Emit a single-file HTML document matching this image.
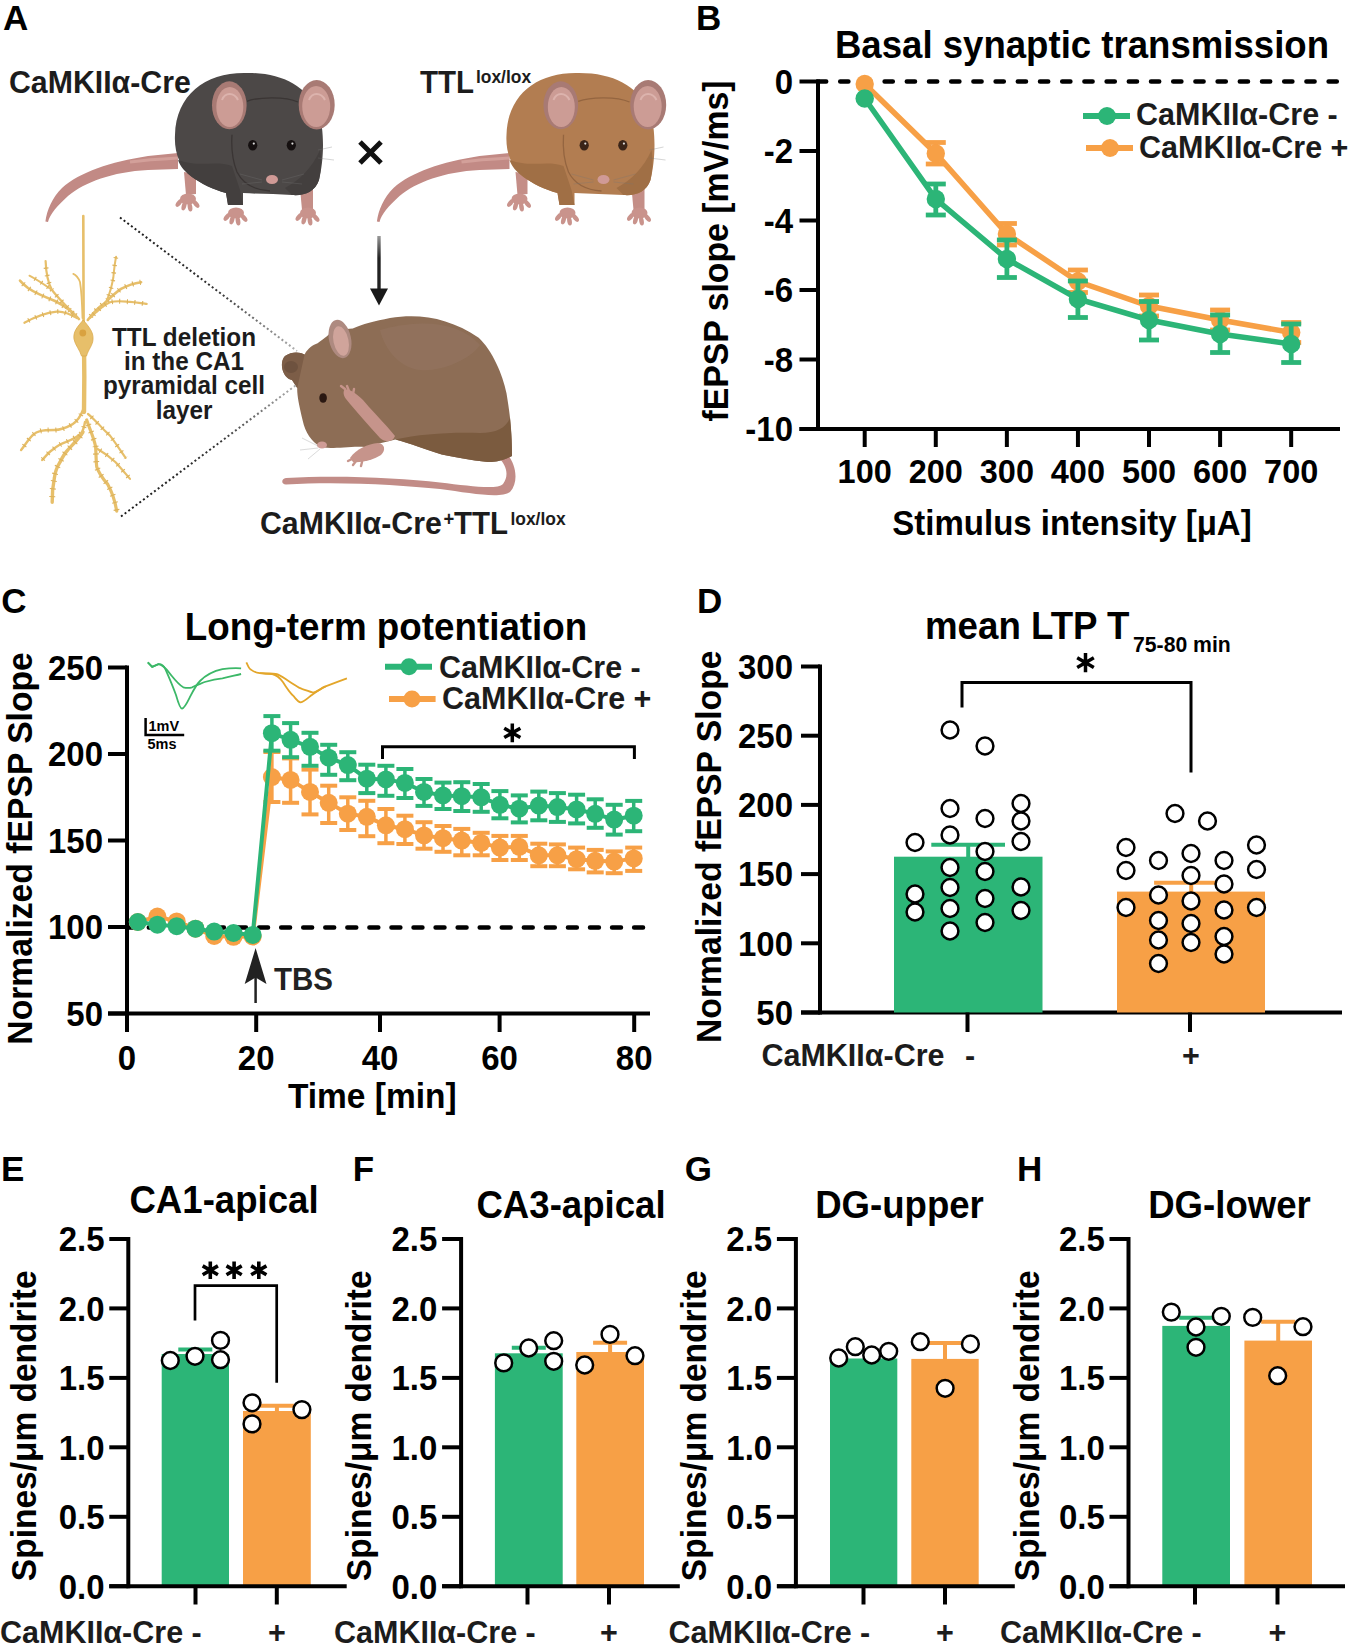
<!DOCTYPE html>
<html><head><meta charset="utf-8"><style>
html,body{margin:0;padding:0;background:#fff;}
svg{display:block;}
text{font-family:"Liberation Sans", sans-serif;font-weight:bold;}
</style></head><body>
<svg width="1350" height="1646" viewBox="0 0 1350 1646">
<rect width="1350" height="1646" fill="#fff"/>
<text x="3" y="30.4" font-size="35" text-anchor="start" fill="#000000" >A</text>
<text x="696.1" y="30.4" font-size="35" text-anchor="start" fill="#000000" >B</text>
<text x="1.3" y="613.2" font-size="35" text-anchor="start" fill="#000000" >C</text>
<text x="697" y="613" font-size="35" text-anchor="start" fill="#000000" >D</text>
<text x="1" y="1181" font-size="35" text-anchor="start" fill="#000000" >E</text>
<text x="352.8" y="1181" font-size="35" text-anchor="start" fill="#000000" >F</text>
<text x="684.8" y="1181.2" font-size="35" text-anchor="start" fill="#000000" >G</text>
<text x="1017.1" y="1181" font-size="35" text-anchor="start" fill="#000000" >H</text>
<line x1="818" y1="79.5" x2="818" y2="431" stroke="#000000" stroke-width="4" />
<line x1="799.5" y1="429" x2="1340" y2="429" stroke="#000000" stroke-width="4" />
<line x1="799.5" y1="81.5" x2="818" y2="81.5" stroke="#000000" stroke-width="4" />
<text x="0" y="0" font-size="33" text-anchor="end" fill="#000000" transform="translate(793,93.8) scale(1,1.045)" >0</text>
<line x1="799.5" y1="151.0" x2="818" y2="151.0" stroke="#000000" stroke-width="4" />
<text x="0" y="0" font-size="33" text-anchor="end" fill="#000000" transform="translate(793,163.3) scale(1,1.045)" >-2</text>
<line x1="799.5" y1="220.5" x2="818" y2="220.5" stroke="#000000" stroke-width="4" />
<text x="0" y="0" font-size="33" text-anchor="end" fill="#000000" transform="translate(793,232.8) scale(1,1.045)" >-4</text>
<line x1="799.5" y1="290.0" x2="818" y2="290.0" stroke="#000000" stroke-width="4" />
<text x="0" y="0" font-size="33" text-anchor="end" fill="#000000" transform="translate(793,302.3) scale(1,1.045)" >-6</text>
<line x1="799.5" y1="359.5" x2="818" y2="359.5" stroke="#000000" stroke-width="4" />
<text x="0" y="0" font-size="33" text-anchor="end" fill="#000000" transform="translate(793,371.8) scale(1,1.045)" >-8</text>
<line x1="799.5" y1="429.0" x2="818" y2="429.0" stroke="#000000" stroke-width="4" />
<text x="0" y="0" font-size="33" text-anchor="end" fill="#000000" transform="translate(793,441.3) scale(1,1.045)" >-10</text>
<line x1="864.7" y1="429" x2="864.7" y2="447" stroke="#000000" stroke-width="4" />
<text x="0" y="0" font-size="32.5" text-anchor="middle" fill="#000000" transform="translate(864.7,482.5) scale(1,1.045)" >100</text>
<line x1="935.7800000000001" y1="429" x2="935.7800000000001" y2="447" stroke="#000000" stroke-width="4" />
<text x="0" y="0" font-size="32.5" text-anchor="middle" fill="#000000" transform="translate(935.8,482.5) scale(1,1.045)" >200</text>
<line x1="1006.86" y1="429" x2="1006.86" y2="447" stroke="#000000" stroke-width="4" />
<text x="0" y="0" font-size="32.5" text-anchor="middle" fill="#000000" transform="translate(1006.9,482.5) scale(1,1.045)" >300</text>
<line x1="1077.94" y1="429" x2="1077.94" y2="447" stroke="#000000" stroke-width="4" />
<text x="0" y="0" font-size="32.5" text-anchor="middle" fill="#000000" transform="translate(1077.9,482.5) scale(1,1.045)" >400</text>
<line x1="1149.02" y1="429" x2="1149.02" y2="447" stroke="#000000" stroke-width="4" />
<text x="0" y="0" font-size="32.5" text-anchor="middle" fill="#000000" transform="translate(1149.0,482.5) scale(1,1.045)" >500</text>
<line x1="1220.1" y1="429" x2="1220.1" y2="447" stroke="#000000" stroke-width="4" />
<text x="0" y="0" font-size="32.5" text-anchor="middle" fill="#000000" transform="translate(1220.1,482.5) scale(1,1.045)" >600</text>
<line x1="1291.18" y1="429" x2="1291.18" y2="447" stroke="#000000" stroke-width="4" />
<text x="0" y="0" font-size="32.5" text-anchor="middle" fill="#000000" transform="translate(1291.2,482.5) scale(1,1.045)" >700</text>
<text x="0" y="0" font-size="33" text-anchor="middle" fill="#000000" transform="translate(1072,534.5) scale(1,1.045)" >Stimulus intensity [μA]</text>
<text x="0" y="0" font-size="33.8" text-anchor="middle" fill="#000000" transform="translate(728.2,251) rotate(-90) scale(1,1.045)" >fEPSP slope [mV/ms]</text>
<text x="0" y="0" font-size="36.6" text-anchor="middle" fill="#000000" transform="translate(1082,57.6) scale(1,1.045)" >Basal synaptic transmission</text>
<line x1="818" y1="81.5" x2="1338" y2="81.5" stroke="#000000" stroke-width="4.5" stroke-dasharray="8.2 14" stroke-linecap="round"/>
<polyline points="864.7,84 935.8,153.5 1006.9,234 1077.9,281.5 1149.0,306 1220.1,320 1291.2,332.5" fill="none" stroke="#f7a046" stroke-width="5.5"/>
<circle cx="864.7" cy="84" r="9.2" fill="#f7a046" stroke="none" stroke-width="0"/>
<line x1="935.8" y1="142.5" x2="935.8" y2="164" stroke="#f7a046" stroke-width="4.8" />
<line x1="925.8" y1="142.5" x2="945.8" y2="142.5" stroke="#f7a046" stroke-width="4.8" />
<line x1="925.8" y1="164" x2="945.8" y2="164" stroke="#f7a046" stroke-width="4.8" />
<circle cx="935.8" cy="153.5" r="9.2" fill="#f7a046" stroke="none" stroke-width="0"/>
<line x1="1006.9" y1="223.5" x2="1006.9" y2="245" stroke="#f7a046" stroke-width="4.8" />
<line x1="996.9" y1="223.5" x2="1016.9" y2="223.5" stroke="#f7a046" stroke-width="4.8" />
<line x1="996.9" y1="245" x2="1016.9" y2="245" stroke="#f7a046" stroke-width="4.8" />
<circle cx="1006.9" cy="234" r="9.2" fill="#f7a046" stroke="none" stroke-width="0"/>
<line x1="1077.9" y1="270" x2="1077.9" y2="292.5" stroke="#f7a046" stroke-width="4.8" />
<line x1="1067.9" y1="270" x2="1087.9" y2="270" stroke="#f7a046" stroke-width="4.8" />
<line x1="1067.9" y1="292.5" x2="1087.9" y2="292.5" stroke="#f7a046" stroke-width="4.8" />
<circle cx="1077.9" cy="281.5" r="9.2" fill="#f7a046" stroke="none" stroke-width="0"/>
<line x1="1149.0" y1="295" x2="1149.0" y2="316" stroke="#f7a046" stroke-width="4.8" />
<line x1="1139.0" y1="295" x2="1159.0" y2="295" stroke="#f7a046" stroke-width="4.8" />
<line x1="1139.0" y1="316" x2="1159.0" y2="316" stroke="#f7a046" stroke-width="4.8" />
<circle cx="1149.0" cy="306" r="9.2" fill="#f7a046" stroke="none" stroke-width="0"/>
<line x1="1220.1" y1="310" x2="1220.1" y2="330" stroke="#f7a046" stroke-width="4.8" />
<line x1="1210.1" y1="310" x2="1230.1" y2="310" stroke="#f7a046" stroke-width="4.8" />
<line x1="1210.1" y1="330" x2="1230.1" y2="330" stroke="#f7a046" stroke-width="4.8" />
<circle cx="1220.1" cy="320" r="9.2" fill="#f7a046" stroke="none" stroke-width="0"/>
<line x1="1291.2" y1="322.5" x2="1291.2" y2="342.5" stroke="#f7a046" stroke-width="4.8" />
<line x1="1281.2" y1="322.5" x2="1301.2" y2="322.5" stroke="#f7a046" stroke-width="4.8" />
<line x1="1281.2" y1="342.5" x2="1301.2" y2="342.5" stroke="#f7a046" stroke-width="4.8" />
<circle cx="1291.2" cy="332.5" r="9.2" fill="#f7a046" stroke="none" stroke-width="0"/>
<polyline points="864.7,98.5 935.8,199 1006.9,259 1077.9,299 1149.0,320 1220.1,334 1291.2,344" fill="none" stroke="#2cb577" stroke-width="5.5"/>
<circle cx="864.7" cy="98.5" r="9.2" fill="#2cb577" stroke="none" stroke-width="0"/>
<line x1="935.8" y1="184" x2="935.8" y2="215" stroke="#2cb577" stroke-width="4.8" />
<line x1="925.8" y1="184" x2="945.8" y2="184" stroke="#2cb577" stroke-width="4.8" />
<line x1="925.8" y1="215" x2="945.8" y2="215" stroke="#2cb577" stroke-width="4.8" />
<circle cx="935.8" cy="199" r="9.2" fill="#2cb577" stroke="none" stroke-width="0"/>
<line x1="1006.9" y1="240" x2="1006.9" y2="277.5" stroke="#2cb577" stroke-width="4.8" />
<line x1="996.9" y1="240" x2="1016.9" y2="240" stroke="#2cb577" stroke-width="4.8" />
<line x1="996.9" y1="277.5" x2="1016.9" y2="277.5" stroke="#2cb577" stroke-width="4.8" />
<circle cx="1006.9" cy="259" r="9.2" fill="#2cb577" stroke="none" stroke-width="0"/>
<line x1="1077.9" y1="281" x2="1077.9" y2="317.5" stroke="#2cb577" stroke-width="4.8" />
<line x1="1067.9" y1="281" x2="1087.9" y2="281" stroke="#2cb577" stroke-width="4.8" />
<line x1="1067.9" y1="317.5" x2="1087.9" y2="317.5" stroke="#2cb577" stroke-width="4.8" />
<circle cx="1077.9" cy="299" r="9.2" fill="#2cb577" stroke="none" stroke-width="0"/>
<line x1="1149.0" y1="301.5" x2="1149.0" y2="340" stroke="#2cb577" stroke-width="4.8" />
<line x1="1139.0" y1="301.5" x2="1159.0" y2="301.5" stroke="#2cb577" stroke-width="4.8" />
<line x1="1139.0" y1="340" x2="1159.0" y2="340" stroke="#2cb577" stroke-width="4.8" />
<circle cx="1149.0" cy="320" r="9.2" fill="#2cb577" stroke="none" stroke-width="0"/>
<line x1="1220.1" y1="315" x2="1220.1" y2="352.5" stroke="#2cb577" stroke-width="4.8" />
<line x1="1210.1" y1="315" x2="1230.1" y2="315" stroke="#2cb577" stroke-width="4.8" />
<line x1="1210.1" y1="352.5" x2="1230.1" y2="352.5" stroke="#2cb577" stroke-width="4.8" />
<circle cx="1220.1" cy="334" r="9.2" fill="#2cb577" stroke="none" stroke-width="0"/>
<line x1="1291.2" y1="324" x2="1291.2" y2="362.5" stroke="#2cb577" stroke-width="4.8" />
<line x1="1281.2" y1="324" x2="1301.2" y2="324" stroke="#2cb577" stroke-width="4.8" />
<line x1="1281.2" y1="362.5" x2="1301.2" y2="362.5" stroke="#2cb577" stroke-width="4.8" />
<circle cx="1291.2" cy="344" r="9.2" fill="#2cb577" stroke="none" stroke-width="0"/>
<line x1="1083" y1="116" x2="1130" y2="116" stroke="#2cb577" stroke-width="6" />
<circle cx="1107" cy="116" r="9" fill="#2cb577" stroke="none" stroke-width="0"/>
<text x="0" y="0" font-size="30.5" text-anchor="start" fill="#1c1c1c" transform="translate(1136,124.5) scale(1,1.045)" >CaMKIIα-Cre -</text>
<line x1="1086" y1="148" x2="1133" y2="148" stroke="#f7a046" stroke-width="6" />
<circle cx="1110" cy="148" r="9" fill="#f7a046" stroke="none" stroke-width="0"/>
<text x="0" y="0" font-size="30.5" text-anchor="start" fill="#1c1c1c" transform="translate(1139,157.5) scale(1,1.045)" >CaMKIIα-Cre +</text>
<line x1="127" y1="665.5" x2="127" y2="1015.5" stroke="#000000" stroke-width="4" />
<line x1="108" y1="1013.5" x2="650" y2="1013.5" stroke="#000000" stroke-width="4" />
<line x1="108" y1="667.5" x2="127" y2="667.5" stroke="#000000" stroke-width="4" />
<text x="0" y="0" font-size="33" text-anchor="end" fill="#000000" transform="translate(103,679.8) scale(1,1.045)" >250</text>
<line x1="108" y1="754.0" x2="127" y2="754.0" stroke="#000000" stroke-width="4" />
<text x="0" y="0" font-size="33" text-anchor="end" fill="#000000" transform="translate(103,766.3) scale(1,1.045)" >200</text>
<line x1="108" y1="840.5" x2="127" y2="840.5" stroke="#000000" stroke-width="4" />
<text x="0" y="0" font-size="33" text-anchor="end" fill="#000000" transform="translate(103,852.8) scale(1,1.045)" >150</text>
<line x1="108" y1="927.0" x2="127" y2="927.0" stroke="#000000" stroke-width="4" />
<text x="0" y="0" font-size="33" text-anchor="end" fill="#000000" transform="translate(103,939.3) scale(1,1.045)" >100</text>
<line x1="108" y1="1013.5" x2="127" y2="1013.5" stroke="#000000" stroke-width="4" />
<text x="0" y="0" font-size="33" text-anchor="end" fill="#000000" transform="translate(103,1025.8) scale(1,1.045)" >50</text>
<line x1="127" y1="1013.5" x2="127" y2="1032" stroke="#000000" stroke-width="4" />
<text x="0" y="0" font-size="33" text-anchor="middle" fill="#000000" transform="translate(127,1070) scale(1,1.045)" >0</text>
<line x1="256.2" y1="1013.5" x2="256.2" y2="1032" stroke="#000000" stroke-width="4" />
<text x="0" y="0" font-size="33" text-anchor="middle" fill="#000000" transform="translate(256.2,1070) scale(1,1.045)" >20</text>
<line x1="380" y1="1013.5" x2="380" y2="1032" stroke="#000000" stroke-width="4" />
<text x="0" y="0" font-size="33" text-anchor="middle" fill="#000000" transform="translate(380,1070) scale(1,1.045)" >40</text>
<line x1="499.6" y1="1013.5" x2="499.6" y2="1032" stroke="#000000" stroke-width="4" />
<text x="0" y="0" font-size="33" text-anchor="middle" fill="#000000" transform="translate(499.6,1070) scale(1,1.045)" >60</text>
<line x1="634.2" y1="1013.5" x2="634.2" y2="1032" stroke="#000000" stroke-width="4" />
<text x="0" y="0" font-size="33" text-anchor="middle" fill="#000000" transform="translate(634.2,1070) scale(1,1.045)" >80</text>
<text x="0" y="0" font-size="33.5" text-anchor="middle" fill="#000000" transform="translate(372.25,1108) scale(1,1.045)" >Time [min]</text>
<text x="0" y="0" font-size="33.7" text-anchor="middle" fill="#000000" transform="translate(32,848.4) rotate(-90) scale(1,1.045)" >Normalized fEPSP Slope</text>
<text x="0" y="0" font-size="36.8" text-anchor="middle" fill="#000000" transform="translate(386,639.5) scale(1,1.045)" >Long-term potentiation</text>
<line x1="126.7" y1="927.5" x2="645" y2="927.5" stroke="#000000" stroke-width="4.4" stroke-dasharray="9 13.06" stroke-linecap="round"/>
<polyline points="137.8,922 157.4,916.6 176.7,921.4 195.5,928.7 214.2,935.9 233.5,936.8 252.7,936.5 271.9,777.1 290.6,779.9 310,791.9 328.7,802.8 347.8,813.7 366.8,816.8 385.9,825.3 404.9,829.2 424,835.4 443,838.2 461.8,840.6 481.2,842.9 499.9,847.6 519.3,846.8 538.8,855.3 557.4,855.3 576.6,859.2 595.2,860.8 614.2,861.6 633.7,858.4" fill="none" stroke="#f7a046" stroke-width="4"/>
<line x1="271.9" y1="752" x2="271.9" y2="802" stroke="#f7a046" stroke-width="3.5" />
<line x1="263.4" y1="752" x2="280.4" y2="752" stroke="#f7a046" stroke-width="4" />
<line x1="263.4" y1="802" x2="280.4" y2="802" stroke="#f7a046" stroke-width="4" />
<line x1="290.6" y1="758.4" x2="290.6" y2="802.8" stroke="#f7a046" stroke-width="3.5" />
<line x1="282.1" y1="758.4" x2="299.1" y2="758.4" stroke="#f7a046" stroke-width="4" />
<line x1="282.1" y1="802.8" x2="299.1" y2="802.8" stroke="#f7a046" stroke-width="4" />
<line x1="310" y1="769.6" x2="310" y2="814.4" stroke="#f7a046" stroke-width="3.5" />
<line x1="301.5" y1="769.6" x2="318.5" y2="769.6" stroke="#f7a046" stroke-width="4" />
<line x1="301.5" y1="814.4" x2="318.5" y2="814.4" stroke="#f7a046" stroke-width="4" />
<line x1="328.7" y1="785.7" x2="328.7" y2="823" stroke="#f7a046" stroke-width="3.5" />
<line x1="320.2" y1="785.7" x2="337.2" y2="785.7" stroke="#f7a046" stroke-width="4" />
<line x1="320.2" y1="823" x2="337.2" y2="823" stroke="#f7a046" stroke-width="4" />
<line x1="347.8" y1="797.3" x2="347.8" y2="830" stroke="#f7a046" stroke-width="3.5" />
<line x1="339.3" y1="797.3" x2="356.3" y2="797.3" stroke="#f7a046" stroke-width="4" />
<line x1="339.3" y1="830" x2="356.3" y2="830" stroke="#f7a046" stroke-width="4" />
<line x1="366.8" y1="800.8" x2="366.8" y2="836.2" stroke="#f7a046" stroke-width="3.5" />
<line x1="358.3" y1="800.8" x2="375.3" y2="800.8" stroke="#f7a046" stroke-width="4" />
<line x1="358.3" y1="836.2" x2="375.3" y2="836.2" stroke="#f7a046" stroke-width="4" />
<line x1="385.9" y1="809" x2="385.9" y2="843.2" stroke="#f7a046" stroke-width="3.5" />
<line x1="377.4" y1="809" x2="394.4" y2="809" stroke="#f7a046" stroke-width="4" />
<line x1="377.4" y1="843.2" x2="394.4" y2="843.2" stroke="#f7a046" stroke-width="4" />
<line x1="404.9" y1="815.7" x2="404.9" y2="844" stroke="#f7a046" stroke-width="3.5" />
<line x1="396.4" y1="815.7" x2="413.4" y2="815.7" stroke="#f7a046" stroke-width="4" />
<line x1="396.4" y1="844" x2="413.4" y2="844" stroke="#f7a046" stroke-width="4" />
<line x1="424" y1="822.2" x2="424" y2="848.7" stroke="#f7a046" stroke-width="3.5" />
<line x1="415.5" y1="822.2" x2="432.5" y2="822.2" stroke="#f7a046" stroke-width="4" />
<line x1="415.5" y1="848.7" x2="432.5" y2="848.7" stroke="#f7a046" stroke-width="4" />
<line x1="443" y1="826" x2="443" y2="851.8" stroke="#f7a046" stroke-width="3.5" />
<line x1="434.5" y1="826" x2="451.5" y2="826" stroke="#f7a046" stroke-width="4" />
<line x1="434.5" y1="851.8" x2="451.5" y2="851.8" stroke="#f7a046" stroke-width="4" />
<line x1="461.8" y1="828.9" x2="461.8" y2="855.3" stroke="#f7a046" stroke-width="3.5" />
<line x1="453.3" y1="828.9" x2="470.3" y2="828.9" stroke="#f7a046" stroke-width="4" />
<line x1="453.3" y1="855.3" x2="470.3" y2="855.3" stroke="#f7a046" stroke-width="4" />
<line x1="481.2" y1="832.8" x2="481.2" y2="855.3" stroke="#f7a046" stroke-width="3.5" />
<line x1="472.7" y1="832.8" x2="489.7" y2="832.8" stroke="#f7a046" stroke-width="4" />
<line x1="472.7" y1="855.3" x2="489.7" y2="855.3" stroke="#f7a046" stroke-width="4" />
<line x1="499.9" y1="835.9" x2="499.9" y2="860" stroke="#f7a046" stroke-width="3.5" />
<line x1="491.4" y1="835.9" x2="508.4" y2="835.9" stroke="#f7a046" stroke-width="4" />
<line x1="491.4" y1="860" x2="508.4" y2="860" stroke="#f7a046" stroke-width="4" />
<line x1="519.3" y1="835.9" x2="519.3" y2="860" stroke="#f7a046" stroke-width="3.5" />
<line x1="510.79999999999995" y1="835.9" x2="527.8" y2="835.9" stroke="#f7a046" stroke-width="4" />
<line x1="510.79999999999995" y1="860" x2="527.8" y2="860" stroke="#f7a046" stroke-width="4" />
<line x1="538.8" y1="843.7" x2="538.8" y2="866.2" stroke="#f7a046" stroke-width="3.5" />
<line x1="530.3" y1="843.7" x2="547.3" y2="843.7" stroke="#f7a046" stroke-width="4" />
<line x1="530.3" y1="866.2" x2="547.3" y2="866.2" stroke="#f7a046" stroke-width="4" />
<line x1="557.4" y1="844.4" x2="557.4" y2="866.2" stroke="#f7a046" stroke-width="3.5" />
<line x1="548.9" y1="844.4" x2="565.9" y2="844.4" stroke="#f7a046" stroke-width="4" />
<line x1="548.9" y1="866.2" x2="565.9" y2="866.2" stroke="#f7a046" stroke-width="4" />
<line x1="576.6" y1="847.6" x2="576.6" y2="869.3" stroke="#f7a046" stroke-width="3.5" />
<line x1="568.1" y1="847.6" x2="585.1" y2="847.6" stroke="#f7a046" stroke-width="4" />
<line x1="568.1" y1="869.3" x2="585.1" y2="869.3" stroke="#f7a046" stroke-width="4" />
<line x1="595.2" y1="849.9" x2="595.2" y2="872.4" stroke="#f7a046" stroke-width="3.5" />
<line x1="586.7" y1="849.9" x2="603.7" y2="849.9" stroke="#f7a046" stroke-width="4" />
<line x1="586.7" y1="872.4" x2="603.7" y2="872.4" stroke="#f7a046" stroke-width="4" />
<line x1="614.2" y1="851.4" x2="614.2" y2="873.2" stroke="#f7a046" stroke-width="3.5" />
<line x1="605.7" y1="851.4" x2="622.7" y2="851.4" stroke="#f7a046" stroke-width="4" />
<line x1="605.7" y1="873.2" x2="622.7" y2="873.2" stroke="#f7a046" stroke-width="4" />
<line x1="633.7" y1="847.6" x2="633.7" y2="870.9" stroke="#f7a046" stroke-width="3.5" />
<line x1="625.2" y1="847.6" x2="642.2" y2="847.6" stroke="#f7a046" stroke-width="4" />
<line x1="625.2" y1="870.9" x2="642.2" y2="870.9" stroke="#f7a046" stroke-width="4" />
<circle cx="137.8" cy="922" r="9" fill="#f7a046" stroke="none" stroke-width="0"/>
<circle cx="157.4" cy="916.6" r="9" fill="#f7a046" stroke="none" stroke-width="0"/>
<circle cx="176.7" cy="921.4" r="9" fill="#f7a046" stroke="none" stroke-width="0"/>
<circle cx="195.5" cy="928.7" r="9" fill="#f7a046" stroke="none" stroke-width="0"/>
<circle cx="214.2" cy="935.9" r="9" fill="#f7a046" stroke="none" stroke-width="0"/>
<circle cx="233.5" cy="936.8" r="9" fill="#f7a046" stroke="none" stroke-width="0"/>
<circle cx="252.7" cy="936.5" r="9" fill="#f7a046" stroke="none" stroke-width="0"/>
<circle cx="271.9" cy="777.1" r="9" fill="#f7a046" stroke="none" stroke-width="0"/>
<circle cx="290.6" cy="779.9" r="9" fill="#f7a046" stroke="none" stroke-width="0"/>
<circle cx="310" cy="791.9" r="9" fill="#f7a046" stroke="none" stroke-width="0"/>
<circle cx="328.7" cy="802.8" r="9" fill="#f7a046" stroke="none" stroke-width="0"/>
<circle cx="347.8" cy="813.7" r="9" fill="#f7a046" stroke="none" stroke-width="0"/>
<circle cx="366.8" cy="816.8" r="9" fill="#f7a046" stroke="none" stroke-width="0"/>
<circle cx="385.9" cy="825.3" r="9" fill="#f7a046" stroke="none" stroke-width="0"/>
<circle cx="404.9" cy="829.2" r="9" fill="#f7a046" stroke="none" stroke-width="0"/>
<circle cx="424" cy="835.4" r="9" fill="#f7a046" stroke="none" stroke-width="0"/>
<circle cx="443" cy="838.2" r="9" fill="#f7a046" stroke="none" stroke-width="0"/>
<circle cx="461.8" cy="840.6" r="9" fill="#f7a046" stroke="none" stroke-width="0"/>
<circle cx="481.2" cy="842.9" r="9" fill="#f7a046" stroke="none" stroke-width="0"/>
<circle cx="499.9" cy="847.6" r="9" fill="#f7a046" stroke="none" stroke-width="0"/>
<circle cx="519.3" cy="846.8" r="9" fill="#f7a046" stroke="none" stroke-width="0"/>
<circle cx="538.8" cy="855.3" r="9" fill="#f7a046" stroke="none" stroke-width="0"/>
<circle cx="557.4" cy="855.3" r="9" fill="#f7a046" stroke="none" stroke-width="0"/>
<circle cx="576.6" cy="859.2" r="9" fill="#f7a046" stroke="none" stroke-width="0"/>
<circle cx="595.2" cy="860.8" r="9" fill="#f7a046" stroke="none" stroke-width="0"/>
<circle cx="614.2" cy="861.6" r="9" fill="#f7a046" stroke="none" stroke-width="0"/>
<circle cx="633.7" cy="858.4" r="9" fill="#f7a046" stroke="none" stroke-width="0"/>
<polyline points="137.8,922 157.4,924.7 176.7,926.2 195.5,928.7 214.2,931.6 233.5,933 252.7,934.9 271.9,733.2 290.6,739.8 310,746.8 328.7,757.7 347.8,765.1 366.8,778.7 385.9,779.4 404.9,782.9 424,791.9 443,795.5 461.8,796.2 481.2,797.3 499.9,804.8 519.3,808.7 538.8,805.6 557.4,807.1 576.6,809.4 595.2,813.8 614.2,819.6 633.7,815.7" fill="none" stroke="#2cb577" stroke-width="4"/>
<line x1="271.9" y1="716.1" x2="271.9" y2="750.7" stroke="#2cb577" stroke-width="3.5" />
<line x1="263.4" y1="716.1" x2="280.4" y2="716.1" stroke="#2cb577" stroke-width="4" />
<line x1="263.4" y1="750.7" x2="280.4" y2="750.7" stroke="#2cb577" stroke-width="4" />
<line x1="290.6" y1="723.1" x2="290.6" y2="757.2" stroke="#2cb577" stroke-width="3.5" />
<line x1="282.1" y1="723.1" x2="299.1" y2="723.1" stroke="#2cb577" stroke-width="4" />
<line x1="282.1" y1="757.2" x2="299.1" y2="757.2" stroke="#2cb577" stroke-width="4" />
<line x1="310" y1="732.8" x2="310" y2="765.8" stroke="#2cb577" stroke-width="3.5" />
<line x1="301.5" y1="732.8" x2="318.5" y2="732.8" stroke="#2cb577" stroke-width="4" />
<line x1="301.5" y1="765.8" x2="318.5" y2="765.8" stroke="#2cb577" stroke-width="4" />
<line x1="328.7" y1="744.8" x2="328.7" y2="774.8" stroke="#2cb577" stroke-width="3.5" />
<line x1="320.2" y1="744.8" x2="337.2" y2="744.8" stroke="#2cb577" stroke-width="4" />
<line x1="320.2" y1="774.8" x2="337.2" y2="774.8" stroke="#2cb577" stroke-width="4" />
<line x1="347.8" y1="752.2" x2="347.8" y2="780.2" stroke="#2cb577" stroke-width="3.5" />
<line x1="339.3" y1="752.2" x2="356.3" y2="752.2" stroke="#2cb577" stroke-width="4" />
<line x1="339.3" y1="780.2" x2="356.3" y2="780.2" stroke="#2cb577" stroke-width="4" />
<line x1="366.8" y1="764.7" x2="366.8" y2="793.1" stroke="#2cb577" stroke-width="3.5" />
<line x1="358.3" y1="764.7" x2="375.3" y2="764.7" stroke="#2cb577" stroke-width="4" />
<line x1="358.3" y1="793.1" x2="375.3" y2="793.1" stroke="#2cb577" stroke-width="4" />
<line x1="385.9" y1="765.8" x2="385.9" y2="795.8" stroke="#2cb577" stroke-width="3.5" />
<line x1="377.4" y1="765.8" x2="394.4" y2="765.8" stroke="#2cb577" stroke-width="4" />
<line x1="377.4" y1="795.8" x2="394.4" y2="795.8" stroke="#2cb577" stroke-width="4" />
<line x1="404.9" y1="769" x2="404.9" y2="798" stroke="#2cb577" stroke-width="3.5" />
<line x1="396.4" y1="769" x2="413.4" y2="769" stroke="#2cb577" stroke-width="4" />
<line x1="396.4" y1="798" x2="413.4" y2="798" stroke="#2cb577" stroke-width="4" />
<line x1="424" y1="779" x2="424" y2="805.9" stroke="#2cb577" stroke-width="3.5" />
<line x1="415.5" y1="779" x2="432.5" y2="779" stroke="#2cb577" stroke-width="4" />
<line x1="415.5" y1="805.9" x2="432.5" y2="805.9" stroke="#2cb577" stroke-width="4" />
<line x1="443" y1="782.6" x2="443" y2="809" stroke="#2cb577" stroke-width="3.5" />
<line x1="434.5" y1="782.6" x2="451.5" y2="782.6" stroke="#2cb577" stroke-width="4" />
<line x1="434.5" y1="809" x2="451.5" y2="809" stroke="#2cb577" stroke-width="4" />
<line x1="461.8" y1="782.2" x2="461.8" y2="811" stroke="#2cb577" stroke-width="3.5" />
<line x1="453.3" y1="782.2" x2="470.3" y2="782.2" stroke="#2cb577" stroke-width="4" />
<line x1="453.3" y1="811" x2="470.3" y2="811" stroke="#2cb577" stroke-width="4" />
<line x1="481.2" y1="784" x2="481.2" y2="811.8" stroke="#2cb577" stroke-width="3.5" />
<line x1="472.7" y1="784" x2="489.7" y2="784" stroke="#2cb577" stroke-width="4" />
<line x1="472.7" y1="811.8" x2="489.7" y2="811.8" stroke="#2cb577" stroke-width="4" />
<line x1="499.9" y1="791.1" x2="499.9" y2="818.3" stroke="#2cb577" stroke-width="3.5" />
<line x1="491.4" y1="791.1" x2="508.4" y2="791.1" stroke="#2cb577" stroke-width="4" />
<line x1="491.4" y1="818.3" x2="508.4" y2="818.3" stroke="#2cb577" stroke-width="4" />
<line x1="519.3" y1="795.4" x2="519.3" y2="822.4" stroke="#2cb577" stroke-width="3.5" />
<line x1="510.79999999999995" y1="795.4" x2="527.8" y2="795.4" stroke="#2cb577" stroke-width="4" />
<line x1="510.79999999999995" y1="822.4" x2="527.8" y2="822.4" stroke="#2cb577" stroke-width="4" />
<line x1="538.8" y1="791.6" x2="538.8" y2="820.3" stroke="#2cb577" stroke-width="3.5" />
<line x1="530.3" y1="791.6" x2="547.3" y2="791.6" stroke="#2cb577" stroke-width="4" />
<line x1="530.3" y1="820.3" x2="547.3" y2="820.3" stroke="#2cb577" stroke-width="4" />
<line x1="557.4" y1="793.1" x2="557.4" y2="821.9" stroke="#2cb577" stroke-width="3.5" />
<line x1="548.9" y1="793.1" x2="565.9" y2="793.1" stroke="#2cb577" stroke-width="4" />
<line x1="548.9" y1="821.9" x2="565.9" y2="821.9" stroke="#2cb577" stroke-width="4" />
<line x1="576.6" y1="794.7" x2="576.6" y2="823.4" stroke="#2cb577" stroke-width="3.5" />
<line x1="568.1" y1="794.7" x2="585.1" y2="794.7" stroke="#2cb577" stroke-width="4" />
<line x1="568.1" y1="823.4" x2="585.1" y2="823.4" stroke="#2cb577" stroke-width="4" />
<line x1="595.2" y1="799.3" x2="595.2" y2="827.8" stroke="#2cb577" stroke-width="3.5" />
<line x1="586.7" y1="799.3" x2="603.7" y2="799.3" stroke="#2cb577" stroke-width="4" />
<line x1="586.7" y1="827.8" x2="603.7" y2="827.8" stroke="#2cb577" stroke-width="4" />
<line x1="614.2" y1="804.8" x2="614.2" y2="834.6" stroke="#2cb577" stroke-width="3.5" />
<line x1="605.7" y1="804.8" x2="622.7" y2="804.8" stroke="#2cb577" stroke-width="4" />
<line x1="605.7" y1="834.6" x2="622.7" y2="834.6" stroke="#2cb577" stroke-width="4" />
<line x1="633.7" y1="800.9" x2="633.7" y2="831.2" stroke="#2cb577" stroke-width="3.5" />
<line x1="625.2" y1="800.9" x2="642.2" y2="800.9" stroke="#2cb577" stroke-width="4" />
<line x1="625.2" y1="831.2" x2="642.2" y2="831.2" stroke="#2cb577" stroke-width="4" />
<circle cx="137.8" cy="922" r="9" fill="#2cb577" stroke="none" stroke-width="0"/>
<circle cx="157.4" cy="924.7" r="9" fill="#2cb577" stroke="none" stroke-width="0"/>
<circle cx="176.7" cy="926.2" r="9" fill="#2cb577" stroke="none" stroke-width="0"/>
<circle cx="195.5" cy="928.7" r="9" fill="#2cb577" stroke="none" stroke-width="0"/>
<circle cx="214.2" cy="931.6" r="9" fill="#2cb577" stroke="none" stroke-width="0"/>
<circle cx="233.5" cy="933" r="9" fill="#2cb577" stroke="none" stroke-width="0"/>
<circle cx="252.7" cy="934.9" r="9" fill="#2cb577" stroke="none" stroke-width="0"/>
<circle cx="271.9" cy="733.2" r="9" fill="#2cb577" stroke="none" stroke-width="0"/>
<circle cx="290.6" cy="739.8" r="9" fill="#2cb577" stroke="none" stroke-width="0"/>
<circle cx="310" cy="746.8" r="9" fill="#2cb577" stroke="none" stroke-width="0"/>
<circle cx="328.7" cy="757.7" r="9" fill="#2cb577" stroke="none" stroke-width="0"/>
<circle cx="347.8" cy="765.1" r="9" fill="#2cb577" stroke="none" stroke-width="0"/>
<circle cx="366.8" cy="778.7" r="9" fill="#2cb577" stroke="none" stroke-width="0"/>
<circle cx="385.9" cy="779.4" r="9" fill="#2cb577" stroke="none" stroke-width="0"/>
<circle cx="404.9" cy="782.9" r="9" fill="#2cb577" stroke="none" stroke-width="0"/>
<circle cx="424" cy="791.9" r="9" fill="#2cb577" stroke="none" stroke-width="0"/>
<circle cx="443" cy="795.5" r="9" fill="#2cb577" stroke="none" stroke-width="0"/>
<circle cx="461.8" cy="796.2" r="9" fill="#2cb577" stroke="none" stroke-width="0"/>
<circle cx="481.2" cy="797.3" r="9" fill="#2cb577" stroke="none" stroke-width="0"/>
<circle cx="499.9" cy="804.8" r="9" fill="#2cb577" stroke="none" stroke-width="0"/>
<circle cx="519.3" cy="808.7" r="9" fill="#2cb577" stroke="none" stroke-width="0"/>
<circle cx="538.8" cy="805.6" r="9" fill="#2cb577" stroke="none" stroke-width="0"/>
<circle cx="557.4" cy="807.1" r="9" fill="#2cb577" stroke="none" stroke-width="0"/>
<circle cx="576.6" cy="809.4" r="9" fill="#2cb577" stroke="none" stroke-width="0"/>
<circle cx="595.2" cy="813.8" r="9" fill="#2cb577" stroke="none" stroke-width="0"/>
<circle cx="614.2" cy="819.6" r="9" fill="#2cb577" stroke="none" stroke-width="0"/>
<circle cx="633.7" cy="815.7" r="9" fill="#2cb577" stroke="none" stroke-width="0"/>
<polyline points="382.5,759 382.5,746.8 634.4,746.8 634.4,759" fill="none" stroke="#000000" stroke-width="3"/>
<path d="M512.30,723.60 L512.30,742.20 M504.25,728.25 L520.35,737.55 M520.35,728.25 L504.25,737.55" stroke="#000000" stroke-width="3.5"/>
<line x1="255.6" y1="975" x2="255.6" y2="1003" stroke="#222" stroke-width="2.5" />
<path d="M255.6,948 L266.5,984 L255.6,977.5 L244.7,984 Z" fill="#222"/>
<text x="0" y="0" font-size="29.5" text-anchor="start" fill="#222" transform="translate(274,989.8) scale(1,1.045)" >TBS</text>
<path d="M147.8,662.4 L152.2,666.9 L158.4,664.2 C162,664 164,666 165.6,669.6 C168,675 172,684 176,695 C178,702 180,708.7 182,708.7 C185,708 188,701 190.4,696.2 C194,689 197,684 200,681 C206,675 214,671 222.4,669.2 C230,668 236,668 241.1,668.3" fill="none" stroke="#3cb868" stroke-width="1.8"/>
<path d="M147.8,662.4 L152.2,666.9 L158.4,664.2 C164,665 167,670 170.9,674.9 C175,680 179,685 183.3,687.3 C186,688 190,688 192.2,687.3 C197,685 200,684 204.7,682 C212,680 217,679 222.4,678.4 C230,677 236,675 241.1,674" fill="none" stroke="#3cb868" stroke-width="1.8"/>
<path d="M246.4,662.4 C248,666 249,669 250.9,669.6 C254,672 257,673 259.8,673.1 C265,674 269,674 272.2,674 C277,675 280,678 282.9,682 C286,687 290,693 293.6,696.2 C296,699 298,702 300.7,702.4 C304,702 308,698 311.3,695.3 C316,692 320,689 325.6,686.4 C332,684 340,681 346.9,678.4" fill="none" stroke="#e3a62a" stroke-width="1.8"/>
<path d="M259.8,673.1 C265,673 270,673 275.8,674 C281,675 285,679 290,682 C295,685 298,688 302.4,689.1 C306,690 310,692 313.1,692.7 C317,692 320,689 325.6,686.4" fill="none" stroke="#e3a62a" stroke-width="1.8"/>
<polyline points="145.6,718 145.6,735 184.2,735" fill="none" stroke="#000000" stroke-width="2.5"/>
<text x="0" y="0" font-size="14.5" text-anchor="start" fill="#000000" transform="translate(148.5,730.5) scale(1,1.045)" >1mV</text>
<text x="0" y="0" font-size="14.5" text-anchor="start" fill="#000000" transform="translate(147.5,749) scale(1,1.045)" >5ms</text>
<line x1="385" y1="666.7" x2="432" y2="666.7" stroke="#2cb577" stroke-width="6" />
<circle cx="409" cy="666.7" r="8.5" fill="#2cb577" stroke="none" stroke-width="0"/>
<text x="0" y="0" font-size="30.5" text-anchor="start" fill="#1c1c1c" transform="translate(439,677.5) scale(1,1.045)" >CaMKIIα-Cre -</text>
<line x1="389" y1="699" x2="435.6" y2="699" stroke="#f7a046" stroke-width="6" />
<circle cx="412" cy="699" r="8.5" fill="#f7a046" stroke="none" stroke-width="0"/>
<text x="0" y="0" font-size="30.5" text-anchor="start" fill="#1c1c1c" transform="translate(442,708.6) scale(1,1.045)" >CaMKIIα-Cre +</text>
<line x1="820" y1="664.5" x2="820" y2="1014.5" stroke="#000000" stroke-width="4" />
<line x1="801" y1="1012.5" x2="1342" y2="1012.5" stroke="#000000" stroke-width="4" />
<line x1="801" y1="666.5" x2="820" y2="666.5" stroke="#000000" stroke-width="4" />
<text x="0" y="0" font-size="33" text-anchor="end" fill="#000000" transform="translate(793,678.8) scale(1,1.045)" >300</text>
<line x1="801" y1="735.7" x2="820" y2="735.7" stroke="#000000" stroke-width="4" />
<text x="0" y="0" font-size="33" text-anchor="end" fill="#000000" transform="translate(793,748.0) scale(1,1.045)" >250</text>
<line x1="801" y1="804.9" x2="820" y2="804.9" stroke="#000000" stroke-width="4" />
<text x="0" y="0" font-size="33" text-anchor="end" fill="#000000" transform="translate(793,817.2) scale(1,1.045)" >200</text>
<line x1="801" y1="874.1" x2="820" y2="874.1" stroke="#000000" stroke-width="4" />
<text x="0" y="0" font-size="33" text-anchor="end" fill="#000000" transform="translate(793,886.4) scale(1,1.045)" >150</text>
<line x1="801" y1="943.3" x2="820" y2="943.3" stroke="#000000" stroke-width="4" />
<text x="0" y="0" font-size="33" text-anchor="end" fill="#000000" transform="translate(793,955.6) scale(1,1.045)" >100</text>
<line x1="801" y1="1012.5" x2="820" y2="1012.5" stroke="#000000" stroke-width="4" />
<text x="0" y="0" font-size="33" text-anchor="end" fill="#000000" transform="translate(793,1024.8) scale(1,1.045)" >50</text>
<line x1="968.2" y1="844.7" x2="968.2" y2="858" stroke="#2cb577" stroke-width="4" />
<line x1="931.3" y1="844.7" x2="1005" y2="844.7" stroke="#2cb577" stroke-width="4" />
<line x1="1191.2" y1="882.8" x2="1191.2" y2="893" stroke="#f7a046" stroke-width="4" />
<line x1="1154.1" y1="882.8" x2="1228.3" y2="882.8" stroke="#f7a046" stroke-width="4" />
<rect x="894" y="856.7" width="148.5" height="155.79999999999995" fill="#2cb577"/>
<rect x="1117" y="891.6" width="148" height="120.89999999999998" fill="#f7a046"/>
<line x1="967.5" y1="1012.5" x2="967.5" y2="1032" stroke="#000000" stroke-width="4" />
<line x1="1190" y1="1012.5" x2="1190" y2="1032" stroke="#000000" stroke-width="4" />
<text x="0" y="0" font-size="30.5" text-anchor="middle" fill="#1c1c1c" transform="translate(853,1066) scale(1,1.045)" >CaMKIIα-Cre</text>
<text x="0" y="0" font-size="30.5" text-anchor="middle" fill="#1c1c1c" transform="translate(970,1066) scale(1,1.045)" >-</text>
<text x="0" y="0" font-size="30.5" text-anchor="middle" fill="#1c1c1c" transform="translate(1191,1066) scale(1,1.045)" >+</text>
<text x="0" y="0" font-size="33.7" text-anchor="middle" fill="#000000" transform="translate(721.4,846.75) rotate(-90) scale(1,1.045)" >Normalized fEPSP Slope</text>
<text x="0" y="0" font-size="36.7" text-anchor="start" fill="#000000" transform="translate(925,639) scale(1,1.045)" >mean LTP T</text>
<text x="0" y="0" font-size="21.2" text-anchor="start" fill="#000000" transform="translate(1133,652) scale(1,1.045)" >75-80 min</text>
<polyline points="962,707.5 962,682.5 1191,682.5 1191,772.5" fill="none" stroke="#000000" stroke-width="3"/>
<path d="M1085.50,653.00 L1085.50,672.20 M1077.19,657.80 L1093.81,667.40 M1093.81,657.80 L1077.19,667.40" stroke="#000000" stroke-width="3.5"/>
<circle cx="950.0" cy="730.0" r="8.4" fill="#fff" stroke="#000000" stroke-width="2.5"/>
<circle cx="985.0" cy="746.0" r="8.4" fill="#fff" stroke="#000000" stroke-width="2.5"/>
<circle cx="950.0" cy="808.5" r="8.4" fill="#fff" stroke="#000000" stroke-width="2.5"/>
<circle cx="985.0" cy="818.5" r="8.4" fill="#fff" stroke="#000000" stroke-width="2.5"/>
<circle cx="1021.0" cy="803.5" r="8.4" fill="#fff" stroke="#000000" stroke-width="2.5"/>
<circle cx="1021.0" cy="821.0" r="8.4" fill="#fff" stroke="#000000" stroke-width="2.5"/>
<circle cx="915.0" cy="842.5" r="8.4" fill="#fff" stroke="#000000" stroke-width="2.5"/>
<circle cx="950.0" cy="835.0" r="8.4" fill="#fff" stroke="#000000" stroke-width="2.5"/>
<circle cx="985.0" cy="851.5" r="8.4" fill="#fff" stroke="#000000" stroke-width="2.5"/>
<circle cx="1021.0" cy="841.5" r="8.4" fill="#fff" stroke="#000000" stroke-width="2.5"/>
<circle cx="950.0" cy="867.5" r="8.4" fill="#fff" stroke="#000000" stroke-width="2.5"/>
<circle cx="985.0" cy="871.5" r="8.4" fill="#fff" stroke="#000000" stroke-width="2.5"/>
<circle cx="915.0" cy="894.0" r="8.4" fill="#fff" stroke="#000000" stroke-width="2.5"/>
<circle cx="950.0" cy="887.5" r="8.4" fill="#fff" stroke="#000000" stroke-width="2.5"/>
<circle cx="985.0" cy="898.5" r="8.4" fill="#fff" stroke="#000000" stroke-width="2.5"/>
<circle cx="1021.0" cy="887.0" r="8.4" fill="#fff" stroke="#000000" stroke-width="2.5"/>
<circle cx="915.0" cy="912.0" r="8.4" fill="#fff" stroke="#000000" stroke-width="2.5"/>
<circle cx="950.0" cy="908.5" r="8.4" fill="#fff" stroke="#000000" stroke-width="2.5"/>
<circle cx="985.0" cy="922.5" r="8.4" fill="#fff" stroke="#000000" stroke-width="2.5"/>
<circle cx="1021.0" cy="910.5" r="8.4" fill="#fff" stroke="#000000" stroke-width="2.5"/>
<circle cx="950.0" cy="931.0" r="8.4" fill="#fff" stroke="#000000" stroke-width="2.5"/>
<circle cx="1175.0" cy="813.5" r="8.4" fill="#fff" stroke="#000000" stroke-width="2.5"/>
<circle cx="1207.5" cy="821.0" r="8.4" fill="#fff" stroke="#000000" stroke-width="2.5"/>
<circle cx="1126.0" cy="847.5" r="8.4" fill="#fff" stroke="#000000" stroke-width="2.5"/>
<circle cx="1158.5" cy="860.5" r="8.4" fill="#fff" stroke="#000000" stroke-width="2.5"/>
<circle cx="1191.0" cy="853.5" r="8.4" fill="#fff" stroke="#000000" stroke-width="2.5"/>
<circle cx="1224.0" cy="860.5" r="8.4" fill="#fff" stroke="#000000" stroke-width="2.5"/>
<circle cx="1256.5" cy="845.0" r="8.4" fill="#fff" stroke="#000000" stroke-width="2.5"/>
<circle cx="1126.0" cy="870.5" r="8.4" fill="#fff" stroke="#000000" stroke-width="2.5"/>
<circle cx="1191.0" cy="875.5" r="8.4" fill="#fff" stroke="#000000" stroke-width="2.5"/>
<circle cx="1224.0" cy="884.0" r="8.4" fill="#fff" stroke="#000000" stroke-width="2.5"/>
<circle cx="1256.5" cy="869.5" r="8.4" fill="#fff" stroke="#000000" stroke-width="2.5"/>
<circle cx="1158.5" cy="895.0" r="8.4" fill="#fff" stroke="#000000" stroke-width="2.5"/>
<circle cx="1191.0" cy="901.0" r="8.4" fill="#fff" stroke="#000000" stroke-width="2.5"/>
<circle cx="1126.0" cy="907.5" r="8.4" fill="#fff" stroke="#000000" stroke-width="2.5"/>
<circle cx="1224.0" cy="910.0" r="8.4" fill="#fff" stroke="#000000" stroke-width="2.5"/>
<circle cx="1256.5" cy="907.5" r="8.4" fill="#fff" stroke="#000000" stroke-width="2.5"/>
<circle cx="1158.5" cy="920.5" r="8.4" fill="#fff" stroke="#000000" stroke-width="2.5"/>
<circle cx="1191.0" cy="923.5" r="8.4" fill="#fff" stroke="#000000" stroke-width="2.5"/>
<circle cx="1158.5" cy="940.0" r="8.4" fill="#fff" stroke="#000000" stroke-width="2.5"/>
<circle cx="1191.0" cy="942.5" r="8.4" fill="#fff" stroke="#000000" stroke-width="2.5"/>
<circle cx="1224.0" cy="936.5" r="8.4" fill="#fff" stroke="#000000" stroke-width="2.5"/>
<circle cx="1224.0" cy="954.0" r="8.4" fill="#fff" stroke="#000000" stroke-width="2.5"/>
<circle cx="1158.5" cy="963.5" r="8.4" fill="#fff" stroke="#000000" stroke-width="2.5"/>
<line x1="195.3" y1="1349.4" x2="195.3" y2="1356" stroke="#2cb577" stroke-width="4" />
<line x1="178.3" y1="1349.4" x2="212.3" y2="1349.4" stroke="#2cb577" stroke-width="4" />
<rect x="161.7" y="1354" width="67.3" height="232.2" fill="#2cb577"/>
<line x1="276.9" y1="1405.7" x2="276.9" y2="1413" stroke="#f7a046" stroke-width="4" />
<line x1="259.9" y1="1405.7" x2="293.9" y2="1405.7" stroke="#f7a046" stroke-width="4" />
<rect x="243" y="1411" width="67.8" height="175.2" fill="#f7a046"/>
<line x1="128.3" y1="1237" x2="128.3" y2="1588.2" stroke="#000000" stroke-width="4" />
<line x1="109.30000000000001" y1="1586.2" x2="346.7" y2="1586.2" stroke="#000000" stroke-width="4" />
<line x1="109.30000000000001" y1="1239.0" x2="128.3" y2="1239.0" stroke="#000000" stroke-width="4" />
<text x="0" y="0" font-size="33" text-anchor="end" fill="#000000" transform="translate(104.6,1251.3) scale(1,1.045)" >2.5</text>
<line x1="109.30000000000001" y1="1308.4" x2="128.3" y2="1308.4" stroke="#000000" stroke-width="4" />
<text x="0" y="0" font-size="33" text-anchor="end" fill="#000000" transform="translate(104.6,1320.7) scale(1,1.045)" >2.0</text>
<line x1="109.30000000000001" y1="1377.9" x2="128.3" y2="1377.9" stroke="#000000" stroke-width="4" />
<text x="0" y="0" font-size="33" text-anchor="end" fill="#000000" transform="translate(104.6,1390.2) scale(1,1.045)" >1.5</text>
<line x1="109.30000000000001" y1="1447.3" x2="128.3" y2="1447.3" stroke="#000000" stroke-width="4" />
<text x="0" y="0" font-size="33" text-anchor="end" fill="#000000" transform="translate(104.6,1459.6) scale(1,1.045)" >1.0</text>
<line x1="109.30000000000001" y1="1516.8" x2="128.3" y2="1516.8" stroke="#000000" stroke-width="4" />
<text x="0" y="0" font-size="33" text-anchor="end" fill="#000000" transform="translate(104.6,1529.1) scale(1,1.045)" >0.5</text>
<line x1="109.30000000000001" y1="1586.2" x2="128.3" y2="1586.2" stroke="#000000" stroke-width="4" />
<text x="0" y="0" font-size="33" text-anchor="end" fill="#000000" transform="translate(104.6,1598.5) scale(1,1.045)" >0.0</text>
<text x="0" y="0" font-size="36.6" text-anchor="middle" fill="#000000" transform="translate(224,1213) scale(1,1.045)" >CA1-apical</text>
<text x="0" y="0" font-size="33.5" text-anchor="middle" fill="#000000" transform="translate(35.5,1425.75) rotate(-90) scale(1,1.045)" >Spines/μm dendrite</text>
<line x1="195.5" y1="1586.2" x2="195.5" y2="1604.5" stroke="#000000" stroke-width="4" />
<line x1="276.8" y1="1586.2" x2="276.8" y2="1604.5" stroke="#000000" stroke-width="4" />
<text x="0" y="0" font-size="30.5" text-anchor="start" fill="#1c1c1c" transform="translate(0,1642.5) scale(1,1.045)" >CaMKIIα-Cre -</text>
<text x="0" y="0" font-size="30.5" text-anchor="middle" fill="#1c1c1c" transform="translate(276.8,1642.5) scale(1,1.045)" >+</text>
<polyline points="195,1320.5 195,1285.6 276.7,1285.6 276.7,1382.7" fill="none" stroke="#000000" stroke-width="2.7"/>
<path d="M210.30,1261.50 L210.30,1279.10 M202.68,1265.90 L217.92,1274.70 M217.92,1265.90 L202.68,1274.70" stroke="#000000" stroke-width="3.6"/>
<path d="M234.10,1261.50 L234.10,1279.10 M226.48,1265.90 L241.72,1274.70 M241.72,1265.90 L226.48,1274.70" stroke="#000000" stroke-width="3.6"/>
<path d="M258.80,1261.50 L258.80,1279.10 M251.18,1265.90 L266.42,1274.70 M266.42,1265.90 L251.18,1274.70" stroke="#000000" stroke-width="3.6"/>
<circle cx="170.3" cy="1360.5" r="8.4" fill="#fff" stroke="#000000" stroke-width="2.5"/>
<circle cx="195" cy="1356.3" r="8.4" fill="#fff" stroke="#000000" stroke-width="2.5"/>
<circle cx="220.5" cy="1340.4" r="8.4" fill="#fff" stroke="#000000" stroke-width="2.5"/>
<circle cx="220.5" cy="1359.7" r="8.4" fill="#fff" stroke="#000000" stroke-width="2.5"/>
<circle cx="252" cy="1402.8" r="8.4" fill="#fff" stroke="#000000" stroke-width="2.5"/>
<circle cx="252" cy="1423.9" r="8.4" fill="#fff" stroke="#000000" stroke-width="2.5"/>
<circle cx="301.9" cy="1409.6" r="8.4" fill="#fff" stroke="#000000" stroke-width="2.5"/>
<line x1="528.8" y1="1347.7" x2="528.8" y2="1355.3" stroke="#2cb577" stroke-width="4" />
<line x1="511.8" y1="1347.7" x2="545.8" y2="1347.7" stroke="#2cb577" stroke-width="4" />
<rect x="494.9" y="1353.3" width="67.8" height="232.9" fill="#2cb577"/>
<line x1="610.1" y1="1342.7" x2="610.1" y2="1354" stroke="#f7a046" stroke-width="4" />
<line x1="593.1" y1="1342.7" x2="627.1" y2="1342.7" stroke="#f7a046" stroke-width="4" />
<rect x="576.3" y="1352" width="67.7" height="234.2" fill="#f7a046"/>
<line x1="461.1" y1="1237" x2="461.1" y2="1588.2" stroke="#000000" stroke-width="4" />
<line x1="442.1" y1="1586.2" x2="679.8" y2="1586.2" stroke="#000000" stroke-width="4" />
<line x1="442.1" y1="1239.0" x2="461.1" y2="1239.0" stroke="#000000" stroke-width="4" />
<text x="0" y="0" font-size="33" text-anchor="end" fill="#000000" transform="translate(437.4,1251.3) scale(1,1.045)" >2.5</text>
<line x1="442.1" y1="1308.4" x2="461.1" y2="1308.4" stroke="#000000" stroke-width="4" />
<text x="0" y="0" font-size="33" text-anchor="end" fill="#000000" transform="translate(437.4,1320.7) scale(1,1.045)" >2.0</text>
<line x1="442.1" y1="1377.9" x2="461.1" y2="1377.9" stroke="#000000" stroke-width="4" />
<text x="0" y="0" font-size="33" text-anchor="end" fill="#000000" transform="translate(437.4,1390.2) scale(1,1.045)" >1.5</text>
<line x1="442.1" y1="1447.3" x2="461.1" y2="1447.3" stroke="#000000" stroke-width="4" />
<text x="0" y="0" font-size="33" text-anchor="end" fill="#000000" transform="translate(437.4,1459.6) scale(1,1.045)" >1.0</text>
<line x1="442.1" y1="1516.8" x2="461.1" y2="1516.8" stroke="#000000" stroke-width="4" />
<text x="0" y="0" font-size="33" text-anchor="end" fill="#000000" transform="translate(437.4,1529.1) scale(1,1.045)" >0.5</text>
<line x1="442.1" y1="1586.2" x2="461.1" y2="1586.2" stroke="#000000" stroke-width="4" />
<text x="0" y="0" font-size="33" text-anchor="end" fill="#000000" transform="translate(437.4,1598.5) scale(1,1.045)" >0.0</text>
<text x="0" y="0" font-size="36.6" text-anchor="middle" fill="#000000" transform="translate(571,1218) scale(1,1.045)" >CA3-apical</text>
<text x="0" y="0" font-size="33.5" text-anchor="middle" fill="#000000" transform="translate(371.3,1425.75) rotate(-90) scale(1,1.045)" >Spines/μm dendrite</text>
<line x1="527.5" y1="1586.2" x2="527.5" y2="1604.5" stroke="#000000" stroke-width="4" />
<line x1="609" y1="1586.2" x2="609" y2="1604.5" stroke="#000000" stroke-width="4" />
<text x="0" y="0" font-size="30.5" text-anchor="start" fill="#1c1c1c" transform="translate(334,1642.5) scale(1,1.045)" >CaMKIIα-Cre -</text>
<text x="0" y="0" font-size="30.5" text-anchor="middle" fill="#1c1c1c" transform="translate(609,1642.5) scale(1,1.045)" >+</text>
<circle cx="503.7" cy="1362.9" r="8.4" fill="#fff" stroke="#000000" stroke-width="2.5"/>
<circle cx="528.7" cy="1348" r="8.4" fill="#fff" stroke="#000000" stroke-width="2.5"/>
<circle cx="553.7" cy="1340.7" r="8.4" fill="#fff" stroke="#000000" stroke-width="2.5"/>
<circle cx="553.7" cy="1361.3" r="8.4" fill="#fff" stroke="#000000" stroke-width="2.5"/>
<circle cx="584.7" cy="1365" r="8.4" fill="#fff" stroke="#000000" stroke-width="2.5"/>
<circle cx="610" cy="1334.4" r="8.4" fill="#fff" stroke="#000000" stroke-width="2.5"/>
<circle cx="635" cy="1355.7" r="8.4" fill="#fff" stroke="#000000" stroke-width="2.5"/>
<rect x="830" y="1358.5" width="67.3" height="227.7" fill="#2cb577"/>
<line x1="945.0" y1="1342.9" x2="945.0" y2="1360.9" stroke="#f7a046" stroke-width="4" />
<line x1="928.0" y1="1342.9" x2="962.0" y2="1342.9" stroke="#f7a046" stroke-width="4" />
<rect x="911.3" y="1358.9" width="67.4" height="227.3" fill="#f7a046"/>
<line x1="795.9" y1="1237" x2="795.9" y2="1588.2" stroke="#000000" stroke-width="4" />
<line x1="776.9" y1="1586.2" x2="1014.8" y2="1586.2" stroke="#000000" stroke-width="4" />
<line x1="776.9" y1="1239.0" x2="795.9" y2="1239.0" stroke="#000000" stroke-width="4" />
<text x="0" y="0" font-size="33" text-anchor="end" fill="#000000" transform="translate(772.2,1251.3) scale(1,1.045)" >2.5</text>
<line x1="776.9" y1="1308.4" x2="795.9" y2="1308.4" stroke="#000000" stroke-width="4" />
<text x="0" y="0" font-size="33" text-anchor="end" fill="#000000" transform="translate(772.2,1320.7) scale(1,1.045)" >2.0</text>
<line x1="776.9" y1="1377.9" x2="795.9" y2="1377.9" stroke="#000000" stroke-width="4" />
<text x="0" y="0" font-size="33" text-anchor="end" fill="#000000" transform="translate(772.2,1390.2) scale(1,1.045)" >1.5</text>
<line x1="776.9" y1="1447.3" x2="795.9" y2="1447.3" stroke="#000000" stroke-width="4" />
<text x="0" y="0" font-size="33" text-anchor="end" fill="#000000" transform="translate(772.2,1459.6) scale(1,1.045)" >1.0</text>
<line x1="776.9" y1="1516.8" x2="795.9" y2="1516.8" stroke="#000000" stroke-width="4" />
<text x="0" y="0" font-size="33" text-anchor="end" fill="#000000" transform="translate(772.2,1529.1) scale(1,1.045)" >0.5</text>
<line x1="776.9" y1="1586.2" x2="795.9" y2="1586.2" stroke="#000000" stroke-width="4" />
<text x="0" y="0" font-size="33" text-anchor="end" fill="#000000" transform="translate(772.2,1598.5) scale(1,1.045)" >0.0</text>
<text x="0" y="0" font-size="36.6" text-anchor="middle" fill="#000000" transform="translate(899.5,1218) scale(1,1.045)" >DG-upper</text>
<text x="0" y="0" font-size="33.5" text-anchor="middle" fill="#000000" transform="translate(706.1,1425.75) rotate(-90) scale(1,1.045)" >Spines/μm dendrite</text>
<line x1="863.5" y1="1586.2" x2="863.5" y2="1604.5" stroke="#000000" stroke-width="4" />
<line x1="945" y1="1586.2" x2="945" y2="1604.5" stroke="#000000" stroke-width="4" />
<text x="0" y="0" font-size="30.5" text-anchor="start" fill="#1c1c1c" transform="translate(668.5,1642.5) scale(1,1.045)" >CaMKIIα-Cre -</text>
<text x="0" y="0" font-size="30.5" text-anchor="middle" fill="#1c1c1c" transform="translate(945,1642.5) scale(1,1.045)" >+</text>
<circle cx="838.7" cy="1358" r="8.4" fill="#fff" stroke="#000000" stroke-width="2.5"/>
<circle cx="855.3" cy="1346.7" r="8.4" fill="#fff" stroke="#000000" stroke-width="2.5"/>
<circle cx="871.7" cy="1355" r="8.4" fill="#fff" stroke="#000000" stroke-width="2.5"/>
<circle cx="888.7" cy="1351.3" r="8.4" fill="#fff" stroke="#000000" stroke-width="2.5"/>
<circle cx="920.3" cy="1341.7" r="8.4" fill="#fff" stroke="#000000" stroke-width="2.5"/>
<circle cx="970.4" cy="1344" r="8.4" fill="#fff" stroke="#000000" stroke-width="2.5"/>
<circle cx="945.1" cy="1388.3" r="8.4" fill="#fff" stroke="#000000" stroke-width="2.5"/>
<line x1="1196.2" y1="1317.7" x2="1196.2" y2="1327.9" stroke="#2cb577" stroke-width="4" />
<line x1="1179.2" y1="1317.7" x2="1213.2" y2="1317.7" stroke="#2cb577" stroke-width="4" />
<rect x="1162.3" y="1325.9" width="67.7" height="260.3" fill="#2cb577"/>
<line x1="1278.2" y1="1321.7" x2="1278.2" y2="1342.6" stroke="#f7a046" stroke-width="4" />
<line x1="1261.2" y1="1321.7" x2="1295.2" y2="1321.7" stroke="#f7a046" stroke-width="4" />
<rect x="1244.4" y="1340.6" width="67.6" height="245.6" fill="#f7a046"/>
<line x1="1128.5" y1="1237" x2="1128.5" y2="1588.2" stroke="#000000" stroke-width="4" />
<line x1="1109.5" y1="1586.2" x2="1345" y2="1586.2" stroke="#000000" stroke-width="4" />
<line x1="1109.5" y1="1239.0" x2="1128.5" y2="1239.0" stroke="#000000" stroke-width="4" />
<text x="0" y="0" font-size="33" text-anchor="end" fill="#000000" transform="translate(1104.8,1251.3) scale(1,1.045)" >2.5</text>
<line x1="1109.5" y1="1308.4" x2="1128.5" y2="1308.4" stroke="#000000" stroke-width="4" />
<text x="0" y="0" font-size="33" text-anchor="end" fill="#000000" transform="translate(1104.8,1320.7) scale(1,1.045)" >2.0</text>
<line x1="1109.5" y1="1377.9" x2="1128.5" y2="1377.9" stroke="#000000" stroke-width="4" />
<text x="0" y="0" font-size="33" text-anchor="end" fill="#000000" transform="translate(1104.8,1390.2) scale(1,1.045)" >1.5</text>
<line x1="1109.5" y1="1447.3" x2="1128.5" y2="1447.3" stroke="#000000" stroke-width="4" />
<text x="0" y="0" font-size="33" text-anchor="end" fill="#000000" transform="translate(1104.8,1459.6) scale(1,1.045)" >1.0</text>
<line x1="1109.5" y1="1516.8" x2="1128.5" y2="1516.8" stroke="#000000" stroke-width="4" />
<text x="0" y="0" font-size="33" text-anchor="end" fill="#000000" transform="translate(1104.8,1529.1) scale(1,1.045)" >0.5</text>
<line x1="1109.5" y1="1586.2" x2="1128.5" y2="1586.2" stroke="#000000" stroke-width="4" />
<text x="0" y="0" font-size="33" text-anchor="end" fill="#000000" transform="translate(1104.8,1598.5) scale(1,1.045)" >0.0</text>
<text x="0" y="0" font-size="36.6" text-anchor="middle" fill="#000000" transform="translate(1229.5,1218) scale(1,1.045)" >DG-lower</text>
<text x="0" y="0" font-size="33.5" text-anchor="middle" fill="#000000" transform="translate(1039.1,1425.75) rotate(-90) scale(1,1.045)" >Spines/μm dendrite</text>
<line x1="1195" y1="1586.2" x2="1195" y2="1604.5" stroke="#000000" stroke-width="4" />
<line x1="1277.5" y1="1586.2" x2="1277.5" y2="1604.5" stroke="#000000" stroke-width="4" />
<text x="0" y="0" font-size="30.5" text-anchor="start" fill="#1c1c1c" transform="translate(1000,1642.5) scale(1,1.045)" >CaMKIIα-Cre -</text>
<text x="0" y="0" font-size="30.5" text-anchor="middle" fill="#1c1c1c" transform="translate(1277.5,1642.5) scale(1,1.045)" >+</text>
<circle cx="1171.3" cy="1312.1" r="8.4" fill="#fff" stroke="#000000" stroke-width="2.5"/>
<circle cx="1196" cy="1327" r="8.4" fill="#fff" stroke="#000000" stroke-width="2.5"/>
<circle cx="1196" cy="1347.3" r="8.4" fill="#fff" stroke="#000000" stroke-width="2.5"/>
<circle cx="1221.3" cy="1316.3" r="8.4" fill="#fff" stroke="#000000" stroke-width="2.5"/>
<circle cx="1252.7" cy="1317.4" r="8.4" fill="#fff" stroke="#000000" stroke-width="2.5"/>
<circle cx="1303" cy="1326.7" r="8.4" fill="#fff" stroke="#000000" stroke-width="2.5"/>
<circle cx="1277.7" cy="1375.7" r="8.4" fill="#fff" stroke="#000000" stroke-width="2.5"/>
<g transform="translate(0,0)"><path d="M45.4,221.5 C47,210 52,198 62,188 C80,172 110,162 148,156 L178,153 L178,169 L148,170 C112,172 85,182 68,196 C57,206 50,214 48,222 Z" fill="#c28a85"/><path d="M130,162 C145,160 160,159 178,158" stroke="#d3a09a" stroke-width="3" fill="none"/><path d="M184,172 L196,174 L196,194 L186,195 Z" fill="#c48e87"/><path d="M300,188 L313,188 L313,210 L302,210 Z" fill="#c48e87"/><path d="M244,73 C280,72 305,85 318,110 C325,130 324,160 319,180 C315,192 304,196 292,195 C276,194 258,194 243,193 L243,205 L228,205 L226,193 C214,190 200,183 192,177 C180,168 174,152 175,135 C176,95 205,73 244,73 Z" fill="#4c4847"/><path d="M178,160 C200,168 215,160 232,166 L240,190 L243,205 L228,205 L226,193 C214,190 200,183 192,177 C185,172 180,166 178,160 Z" fill="#433f3e"/><path d="M292,195 C304,196 315,192 319,180 C321,170 322,160 320,150 C312,168 300,180 285,188 Z" fill="#433f3e"/><path d="M246.7,101.3 C258,97 285,96 298,102 M232,134.7 C231,150 233,162 237,172 C243,184 255,190 270,191" stroke="#3a3534" stroke-width="1.3" fill="none"/><ellipse cx="229.3" cy="105.3" rx="17.3" ry="24" fill="#a87a74"/><ellipse cx="229.8" cy="107" rx="13.5" ry="20" fill="#cc9c95"/><path d="M222,100 C225,92 234,92 238,100" stroke="#dcb3ad" stroke-width="2" fill="none"/><ellipse cx="316.7" cy="104.7" rx="18" ry="24.7" fill="#a87a74"/><ellipse cx="316.2" cy="106.5" rx="14" ry="20.5" fill="#cc9c95"/><path d="M309,100 C312,92 321,92 325,100" stroke="#dcb3ad" stroke-width="2" fill="none"/><ellipse cx="252.7" cy="145.3" rx="4.6" ry="5.3" fill="#151010"/><ellipse cx="291.3" cy="145.3" rx="4.6" ry="5.3" fill="#151010"/><circle cx="253.8" cy="143.6" r="1.1" fill="#ddd"/><circle cx="292.4" cy="143.6" r="1.1" fill="#ddd"/><ellipse cx="272" cy="179.5" rx="6" ry="4.6" fill="#d09a96"/><path d="M262,180 l-22,-6 M262,182 l-20,2 M282,180 l22,-6 M282,182 l20,2 M318,150 l14,-3 M318,158 l16,2" stroke="#777" stroke-width="0.6" opacity="0.5"/><g transform="translate(188,199) scale(1.0)"><ellipse cx="0" cy="0" rx="8" ry="5.5" fill="#c9938c"/><ellipse cx="-9" cy="4" rx="2.3" ry="4.5" transform="rotate(40 -9 4)" fill="#c9938c"/><ellipse cx="-4" cy="7" rx="2.3" ry="4.5" transform="rotate(15 -4 7)" fill="#c9938c"/><ellipse cx="2" cy="8" rx="2.3" ry="4.5" transform="rotate(-10 2 8)" fill="#c9938c"/><ellipse cx="8" cy="5" rx="2.3" ry="4.5" transform="rotate(-40 8 5)" fill="#c9938c"/></g><g transform="translate(236,213) scale(1.0)"><ellipse cx="0" cy="0" rx="8" ry="5.5" fill="#c9938c"/><ellipse cx="-9" cy="4" rx="2.3" ry="4.5" transform="rotate(40 -9 4)" fill="#c9938c"/><ellipse cx="-4" cy="7" rx="2.3" ry="4.5" transform="rotate(15 -4 7)" fill="#c9938c"/><ellipse cx="2" cy="8" rx="2.3" ry="4.5" transform="rotate(-10 2 8)" fill="#c9938c"/><ellipse cx="8" cy="5" rx="2.3" ry="4.5" transform="rotate(-40 8 5)" fill="#c9938c"/></g><g transform="translate(308,213) scale(1.0)"><ellipse cx="0" cy="0" rx="8" ry="5.5" fill="#c9938c"/><ellipse cx="-9" cy="4" rx="2.3" ry="4.5" transform="rotate(40 -9 4)" fill="#c9938c"/><ellipse cx="-4" cy="7" rx="2.3" ry="4.5" transform="rotate(15 -4 7)" fill="#c9938c"/><ellipse cx="2" cy="8" rx="2.3" ry="4.5" transform="rotate(-10 2 8)" fill="#c9938c"/><ellipse cx="8" cy="5" rx="2.3" ry="4.5" transform="rotate(-40 8 5)" fill="#c9938c"/></g></g>
<g transform="translate(331.5,0)"><path d="M45.4,221.5 C47,210 52,198 62,188 C80,172 110,162 148,156 L178,153 L178,169 L148,170 C112,172 85,182 68,196 C57,206 50,214 48,222 Z" fill="#c28a85"/><path d="M130,162 C145,160 160,159 178,158" stroke="#d3a09a" stroke-width="3" fill="none"/><path d="M184,172 L196,174 L196,194 L186,195 Z" fill="#c48e87"/><path d="M300,188 L313,188 L313,210 L302,210 Z" fill="#c48e87"/><path d="M244,73 C280,72 305,85 318,110 C325,130 324,160 319,180 C315,192 304,196 292,195 C276,194 258,194 243,193 L243,205 L228,205 L226,193 C214,190 200,183 192,177 C180,168 174,152 175,135 C176,95 205,73 244,73 Z" fill="#b27d51"/><path d="M178,160 C200,168 215,160 232,166 L240,190 L243,205 L228,205 L226,193 C214,190 200,183 192,177 C185,172 180,166 178,160 Z" fill="#a06f45"/><path d="M292,195 C304,196 315,192 319,180 C321,170 322,160 320,150 C312,168 300,180 285,188 Z" fill="#a06f45"/><path d="M246.7,101.3 C258,97 285,96 298,102 M232,134.7 C231,150 233,162 237,172 C243,184 255,190 270,191" stroke="#946540" stroke-width="1.3" fill="none"/><ellipse cx="229.3" cy="105.3" rx="17.3" ry="24" fill="#a87a74"/><ellipse cx="229.8" cy="107" rx="13.5" ry="20" fill="#cc9c95"/><path d="M222,100 C225,92 234,92 238,100" stroke="#dcb3ad" stroke-width="2" fill="none"/><ellipse cx="316.7" cy="104.7" rx="18" ry="24.7" fill="#a87a74"/><ellipse cx="316.2" cy="106.5" rx="14" ry="20.5" fill="#cc9c95"/><path d="M309,100 C312,92 321,92 325,100" stroke="#dcb3ad" stroke-width="2" fill="none"/><ellipse cx="252.7" cy="145.3" rx="4.6" ry="5.3" fill="#3a2418"/><ellipse cx="291.3" cy="145.3" rx="4.6" ry="5.3" fill="#3a2418"/><circle cx="253.8" cy="143.6" r="1.1" fill="#ddd"/><circle cx="292.4" cy="143.6" r="1.1" fill="#ddd"/><ellipse cx="272" cy="179.5" rx="6" ry="4.6" fill="#d09a96"/><path d="M262,180 l-22,-6 M262,182 l-20,2 M282,180 l22,-6 M282,182 l20,2 M318,150 l14,-3 M318,158 l16,2" stroke="#777" stroke-width="0.6" opacity="0.5"/><g transform="translate(188,199) scale(1.0)"><ellipse cx="0" cy="0" rx="8" ry="5.5" fill="#c9938c"/><ellipse cx="-9" cy="4" rx="2.3" ry="4.5" transform="rotate(40 -9 4)" fill="#c9938c"/><ellipse cx="-4" cy="7" rx="2.3" ry="4.5" transform="rotate(15 -4 7)" fill="#c9938c"/><ellipse cx="2" cy="8" rx="2.3" ry="4.5" transform="rotate(-10 2 8)" fill="#c9938c"/><ellipse cx="8" cy="5" rx="2.3" ry="4.5" transform="rotate(-40 8 5)" fill="#c9938c"/></g><g transform="translate(236,213) scale(1.0)"><ellipse cx="0" cy="0" rx="8" ry="5.5" fill="#c9938c"/><ellipse cx="-9" cy="4" rx="2.3" ry="4.5" transform="rotate(40 -9 4)" fill="#c9938c"/><ellipse cx="-4" cy="7" rx="2.3" ry="4.5" transform="rotate(15 -4 7)" fill="#c9938c"/><ellipse cx="2" cy="8" rx="2.3" ry="4.5" transform="rotate(-10 2 8)" fill="#c9938c"/><ellipse cx="8" cy="5" rx="2.3" ry="4.5" transform="rotate(-40 8 5)" fill="#c9938c"/></g><g transform="translate(308,213) scale(1.0)"><ellipse cx="0" cy="0" rx="8" ry="5.5" fill="#c9938c"/><ellipse cx="-9" cy="4" rx="2.3" ry="4.5" transform="rotate(40 -9 4)" fill="#c9938c"/><ellipse cx="-4" cy="7" rx="2.3" ry="4.5" transform="rotate(15 -4 7)" fill="#c9938c"/><ellipse cx="2" cy="8" rx="2.3" ry="4.5" transform="rotate(-10 2 8)" fill="#c9938c"/><ellipse cx="8" cy="5" rx="2.3" ry="4.5" transform="rotate(-40 8 5)" fill="#c9938c"/></g></g>
<path d="M508,455 C516,465 519,482 510,492 C500,499 470,493 440,489 C400,485 340,481 286,484.5 C281,484.5 281,478.5 286,478 C340,475 400,478 440,482.5 C470,486 497,490 503,484 C509,476 507,466 499,458 Z" fill="#c28c87"/>
<path d="M319.4,446 C312,442 305,432 302.8,421 C299,405 297,395 297.2,388 L292,380 C282,378 279,362 285,356 C292,351 300,352 304.6,354.4 C308,348 313,345 317.6,343.3 C325,338 330,334 333,330 L352.8,328.5 C362,324 375,321 390,318 C420,313 450,318 478.7,337.8 C492,350 503,375 506.5,393.3 C510,415 512,430 512,456 C500,462 492,462 488,461.9 C470,460 455,457 441.7,454.4 C425,450 410,443 395.4,439.6 C385,442 375,445 365,447 C355,446 340,448 330.6,448 C326,448 322,447 319.4,446 Z" fill="#8d6d55"/>
<path d="M395,439.6 C420,434 450,432 480,433 C496,433 506,428 510,418 C511,430 512,440 512,456 C500,462 492,462 488,462 C470,460 455,457 441.7,454.4 C425,450 410,443 395.4,439.6 Z" fill="#7b5b3f"/>
<path d="M380,330 C420,318 460,322 480,345 C470,360 440,372 420,370 C400,368 385,350 380,330 Z" fill="#957560" opacity="0.6"/>
<path d="M297.2,388 L292,380 C282,378 279,362 285,356 C292,351 300,352 304.6,354.4 Z" fill="#7c5d47"/>
<ellipse cx="291" cy="367" rx="7" ry="6" fill="#6e523f"/>
<ellipse cx="340" cy="339" rx="11" ry="19.5" transform="rotate(-12 340 339)" fill="#ae8a80"/>
<ellipse cx="341" cy="341" rx="7.5" ry="15" transform="rotate(-12 341 341)" fill="#d0a49b"/>
<ellipse cx="323.1" cy="398" rx="3.8" ry="4.8" fill="#2a1812"/>
<path d="M345,389 C353,390 361,397 369,407 C379,418 389,428 395,436 C393,442 386,443 380,438 C369,426 356,411 346,399 C343,395 343,391 345,389 Z" fill="#c6948b"/>
<path d="M345,389 l-4,-3 M349,391 l-2,-5 M353,394 l1,-5" stroke="#c6948b" stroke-width="2.4" stroke-linecap="round"/>
<path d="M350,458 C356,449 368,444 378,443 C385,444 386,450 381,455 C373,460 361,463 353,462 Z" fill="#c6948b"/>
<path d="M352,459 l-4,2 M356,461 l-3,4 M362,462 l-1,4" stroke="#c6948b" stroke-width="2.4" stroke-linecap="round"/>
<ellipse cx="322" cy="445" rx="5" ry="3.6" fill="#cf9c96"/>
<path d="M318,446 l-16,-8 M318,448 l-18,2 M320,449 l-12,10" stroke="#888" stroke-width="0.6" opacity="0.5"/>
<g stroke="#e7bf6a" fill="none" stroke-linecap="round"><path d="M78.9,319 C72,311 63,305 55,301 C45,297 35,293 28,288 C24,285 22,283 20,280.6" stroke-width="2.6"/><path d="M78.9,319 C72,311 63,305 55,301 C45,297 35,293 28,288 C24,285 22,283 20,280.6" stroke="#dcb25c" stroke-width="5.2" stroke-dasharray="1.1 6.5" stroke-dashoffset="3" stroke-linecap="butt"/><path d="M76,316 C68,308 58,298 52,290 C48,283 46,272 45.6,261" stroke-width="2.2"/><path d="M76,316 C68,308 58,298 52,290 C48,283 46,272 45.6,261" stroke="#dcb25c" stroke-width="4.800000000000001" stroke-dasharray="1.1 6.5" stroke-dashoffset="3" stroke-linecap="butt"/><path d="M52,290 C45,285 38,280 29.4,275.6" stroke-width="1.8"/><path d="M52,290 C45,285 38,280 29.4,275.6" stroke="#dcb25c" stroke-width="4.4" stroke-dasharray="1.1 6.5" stroke-dashoffset="3" stroke-linecap="butt"/><path d="M77,318 C70,314 62,311 56.7,311.7 C45,313 33,318 24.4,322.8" stroke-width="2.2"/><path d="M77,318 C70,314 62,311 56.7,311.7 C45,313 33,318 24.4,322.8" stroke="#dcb25c" stroke-width="4.800000000000001" stroke-dasharray="1.1 6.5" stroke-dashoffset="3" stroke-linecap="butt"/><path d="M82.5,318 C82,300 81,288 80,282 C78,277 76,275 73.3,273.9" stroke-width="1.8"/><path d="M87.8,320 C93,313 99,307 104.4,303.3 C110,298 115,293 121,288.9 C128,285 135,283 141.1,282.2" stroke-width="2.6"/><path d="M87.8,320 C93,313 99,307 104.4,303.3 C110,298 115,293 121,288.9 C128,285 135,283 141.1,282.2" stroke="#dcb25c" stroke-width="5.2" stroke-dasharray="1.1 6.5" stroke-dashoffset="3" stroke-linecap="butt"/><path d="M107,300 C110,293 112,285 113.3,277.8 C114,270 115,262 116.1,256.7" stroke-width="2.0"/><path d="M107,300 C110,293 112,285 113.3,277.8 C114,270 115,262 116.1,256.7" stroke="#dcb25c" stroke-width="4.6" stroke-dasharray="1.1 6.5" stroke-dashoffset="3" stroke-linecap="butt"/><path d="M90,318 C97,311 103,305 110,302.2 C115,301 120,301 126.7,301.7 C133,302 140,303 146.7,303.9" stroke-width="2.2"/><path d="M90,318 C97,311 103,305 110,302.2 C115,301 120,301 126.7,301.7 C133,302 140,303 146.7,303.9" stroke="#dcb25c" stroke-width="4.800000000000001" stroke-dasharray="1.1 6.5" stroke-dashoffset="3" stroke-linecap="butt"/><path d="M83,410 C80,418 76,422 72.2,424.4 C66,428 60,430 54.4,430 C48,430 44,430 40,431.1 C36,432 34,434 32.2,435.6 C28,440 25,445 21.1,450" stroke-width="2.4"/><path d="M83,410 C80,418 76,422 72.2,424.4 C66,428 60,430 54.4,430 C48,430 44,430 40,431.1 C36,432 34,434 32.2,435.6 C28,440 25,445 21.1,450" stroke="#dcb25c" stroke-width="5.0" stroke-dasharray="1.1 6.5" stroke-dashoffset="3" stroke-linecap="butt"/><path d="M85,422 C84,428 83,431 81.1,433.3 C77,437 71,440 65.6,442.2 C60,444 56,447 52.2,450 C48,453 45,457 42.2,460" stroke-width="2.4"/><path d="M85,422 C84,428 83,431 81.1,433.3 C77,437 71,440 65.6,442.2 C60,444 56,447 52.2,450 C48,453 45,457 42.2,460" stroke="#dcb25c" stroke-width="5.0" stroke-dasharray="1.1 6.5" stroke-dashoffset="3" stroke-linecap="butt"/><path d="M83,432 C78,440 72,445 67.8,450 C64,454 62,458 60,462.2 C57,467 55,472 54.4,477.8 C53,485 52,495 52.2,502.2" stroke-width="3.4"/><path d="M83,432 C78,440 72,445 67.8,450 C64,454 62,458 60,462.2 C57,467 55,472 54.4,477.8 C53,485 52,495 52.2,502.2" stroke="#dcb25c" stroke-width="6.0" stroke-dasharray="1.1 6.5" stroke-dashoffset="3" stroke-linecap="butt"/><path d="M86.7,420 C90,430 94,438 95.6,446.7 C96,452 96,460 96.7,466.7 C99,474 104,480 107.8,484.4 C112,492 115,500 116.7,511.1" stroke-width="3.2"/><path d="M86.7,420 C90,430 94,438 95.6,446.7 C96,452 96,460 96.7,466.7 C99,474 104,480 107.8,484.4 C112,492 115,500 116.7,511.1" stroke="#dcb25c" stroke-width="5.800000000000001" stroke-dasharray="1.1 6.5" stroke-dashoffset="3" stroke-linecap="butt"/><path d="M88,414 C92,417 95,421 98.9,424.4 C102,428 106,432 110,435.6 C115,442 120,450 125.6,457.8" stroke-width="2.2"/><path d="M88,414 C92,417 95,421 98.9,424.4 C102,428 106,432 110,435.6 C115,442 120,450 125.6,457.8" stroke="#dcb25c" stroke-width="4.800000000000001" stroke-dasharray="1.1 6.5" stroke-dashoffset="3" stroke-linecap="butt"/><path d="M96,448 C103,452 110,457 115.6,462.2 C120,467 125,473 130,478.9" stroke-width="2.2"/><path d="M96,448 C103,452 110,457 115.6,462.2 C120,467 125,473 130,478.9" stroke="#dcb25c" stroke-width="4.800000000000001" stroke-dasharray="1.1 6.5" stroke-dashoffset="3" stroke-linecap="butt"/><path d="M83.3,216 C83.5,260 83.3,300 83.6,322" stroke-width="2.6"/><path d="M84,344 C84.5,370 84.3,395 84,412" stroke-width="4.4"/></g>
<path d="M83.3,320 C77,327 73,332 74,339 C75,345 80,350 81.5,356 L86.5,356 C88,350 93,345 93,339 C93.5,332 89,327 83.3,320 Z" fill="#e7bf6a" stroke="#d9a94e" stroke-width="0.8"/>
<circle cx="82.8" cy="333" r="3.4" fill="#d9a240"/>
<defs><linearGradient id="dl1" gradientUnits="userSpaceOnUse" x1="120" y1="217.5" x2="297" y2="351"><stop offset="0" stop-color="#1a1a1a"/><stop offset="0.55" stop-color="#333"/><stop offset="1" stop-color="#b0b0b0"/></linearGradient><linearGradient id="dl2" gradientUnits="userSpaceOnUse" x1="121" y1="516.5" x2="297" y2="384.4"><stop offset="0" stop-color="#1a1a1a"/><stop offset="0.55" stop-color="#333"/><stop offset="1" stop-color="#b0b0b0"/></linearGradient></defs>
<line x1="120" y1="217.5" x2="297" y2="351" stroke="url(#dl1)" stroke-width="2" stroke-dasharray="2 2.6"/>
<line x1="121" y1="516.5" x2="297" y2="384.4" stroke="url(#dl2)" stroke-width="2" stroke-dasharray="2 2.6"/>
<text x="0" y="0" font-size="30.3" text-anchor="start" fill="#1c1c1c" transform="translate(9,93.1) scale(1,1.045)" >CaMKIIα-Cre</text>
<text x="0" y="0" font-size="29.5" text-anchor="start" fill="#1c1c1c" transform="translate(420,92.7) scale(1,1.045)" >TTL</text>
<text x="0" y="0" font-size="17.4" text-anchor="start" fill="#1c1c1c" transform="translate(476,83) scale(1,1.045)" >lox/lox</text>
<text x="0" y="0" font-size="30.3" text-anchor="start" fill="#1c1c1c" transform="translate(260,534.1) scale(1,1.045)" >CaMKIIα-Cre</text>
<text x="0" y="0" font-size="18.5" text-anchor="start" fill="#1c1c1c" transform="translate(443.5,525.8) scale(1,1.045)" >+</text>
<text x="0" y="0" font-size="29.5" text-anchor="start" fill="#1c1c1c" transform="translate(454,534.1) scale(1,1.045)" >TTL</text>
<text x="0" y="0" font-size="17.4" text-anchor="start" fill="#1c1c1c" transform="translate(510.5,525) scale(1,1.045)" >lox/lox</text>
<text x="0" y="0" font-size="24.3" text-anchor="middle" fill="#1c1c1c" transform="translate(184,346.0) scale(1,1.045)" >TTL deletion</text>
<text x="0" y="0" font-size="24.3" text-anchor="middle" fill="#1c1c1c" transform="translate(184,370.2) scale(1,1.045)" >in the CA1</text>
<text x="0" y="0" font-size="24.3" text-anchor="middle" fill="#1c1c1c" transform="translate(184,394.4) scale(1,1.045)" >pyramidal cell</text>
<text x="0" y="0" font-size="24.3" text-anchor="middle" fill="#1c1c1c" transform="translate(184,418.6) scale(1,1.045)" >layer</text>
<path d="M360,142 L381,163 M381,142 L360,163" stroke="#111" stroke-width="5"/>
<defs><linearGradient id="ag" x1="0" y1="0" x2="0" y2="1"><stop offset="0" stop-color="#999"/><stop offset="0.4" stop-color="#222"/></linearGradient></defs>
<rect x="377.3" y="236" width="3.4" height="55" fill="url(#ag)"/>
<path d="M370,288.5 L388,288.5 L379,305.5 Z" fill="#1a1a1a"/>
</svg></body></html>
